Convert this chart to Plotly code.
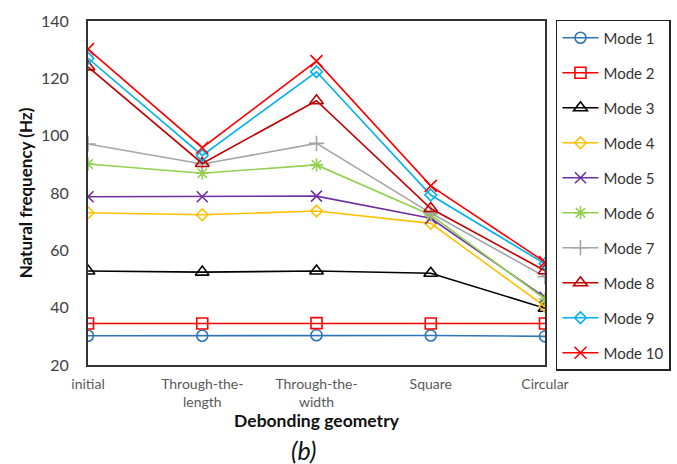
import plotly.graph_objects as go

# Debonding geometries (x categories)
geometries = ["initial", "Through-the-<br>length", "Through-the-<br>width", "Square", "Circular"]

# Natural frequencies (Hz) for each mode
mode_1 = [30.2, 30.2, 30.4, 30.3, 30.0]
mode_2 = [34.5, 34.5, 34.6, 34.5, 34.5]
mode_3 = [52.8, 52.4, 52.8, 52.0, 39.8]
mode_4 = [73.1, 72.4, 73.7, 69.4, 40.4]
mode_5 = [78.7, 78.7, 78.9, 71.2, 43.6]
mode_6 = [90.1, 86.9, 89.8, 72.3, 43.0]
mode_7 = [97.1, 90.1, 97.3, 73.0, 50.8]
mode_8 = [124.0, 90.3, 112.2, 74.6, 52.9]
mode_9 = [127.0, 93.1, 122.3, 79.3, 55.3]
mode_10 = [130.2, 95.8, 126.0, 82.5, 55.9]

names = ["Mode 1", "Mode 2", "Mode 3", "Mode 4", "Mode 5",
         "Mode 6", "Mode 7", "Mode 8", "Mode 9", "Mode 10"]
series = [mode_1, mode_2, mode_3, mode_4, mode_5,
          mode_6, mode_7, mode_8, mode_9, mode_10]

colors = ["#2E75B6", "#FF0000", "#000000", "#FFC000", "#7030A0",
          "#92D050", "#A5A5A5", "#C00000", "#00B0F0", "#FF0000"]
symbols = ["circle-open", "square-open", "triangle-up-open", "diamond-open", "x-thin-open",
           "asterisk-open", "cross-thin-open", "triangle-up-open", "diamond-open", "x-thin-open"]
sizes = [11, 11, 12, 9, 11, 11, 11, 12, 9, 12]

FONT = "Lato, 'Liberation Sans', sans-serif"

fig = go.Figure()
for name, vals, col, sym, sz in zip(names, series, colors, symbols, sizes):
    fig.add_trace(go.Scatter(
        x=geometries, y=vals, name=name, legendgroup=name,
        mode="lines+markers",
        line=dict(color=col, width=1.6),
        marker=dict(symbol=sym, size=sz, color=col, line=dict(color=col, width=1.6)),
    ))

fig.update_layout(
    width=677, height=464,
    margin=dict(l=88, r=132, t=21, b=99, autoexpand=False),
    paper_bgcolor="white", plot_bgcolor="white",
    font=dict(family=FONT, color="#404040"),
    showlegend=True,
    legend=dict(
        x=1.024, xanchor="left", y=1.003, yanchor="top",
        bordercolor="#222222", borderwidth=1.5,
        font=dict(family=FONT, size=15, color="#333333"),
        tracegroupgap=12.5,
        itemwidth=36,
        maxheight=400,
    ),
    xaxis=dict(
        type="category", range=[0, 4],
        showgrid=False, zeroline=False,
        showline=True, linecolor="#333333", linewidth=2, mirror=True,
        tickfont=dict(family=FONT, size=14, color="#595959"),
        ticks="outside", ticklen=5, tickcolor="rgba(0,0,0,0)",
        title=dict(text="<b>Debonding geometry</b>", font=dict(family=FONT, size=17.5, color="#111111"),
                   standoff=5),
    ),
    yaxis=dict(
        range=[20, 140], dtick=20,
        showgrid=False, zeroline=False,
        showline=True, linecolor="#333333", linewidth=2, mirror=True,
        tickfont=dict(family=FONT, size=16, color="#404040"),
        ticks="outside", ticklen=14, tickcolor="rgba(0,0,0,0)",
        title=dict(text="<b>Natural frequency (Hz)</b>", font=dict(family=FONT, size=17, color="#111111"),
                   standoff=4),
    ),
)

fig.add_annotation(
    text="<i>(b)</i>", xref="paper", yref="paper",
    x=(303 - 88) / 457, y=-(450 - 365) / 344,
    showarrow=False, xanchor="center", yanchor="middle",
    font=dict(family=FONT, size=25, color="#111111"),
)

fig.write_html("out.html")
